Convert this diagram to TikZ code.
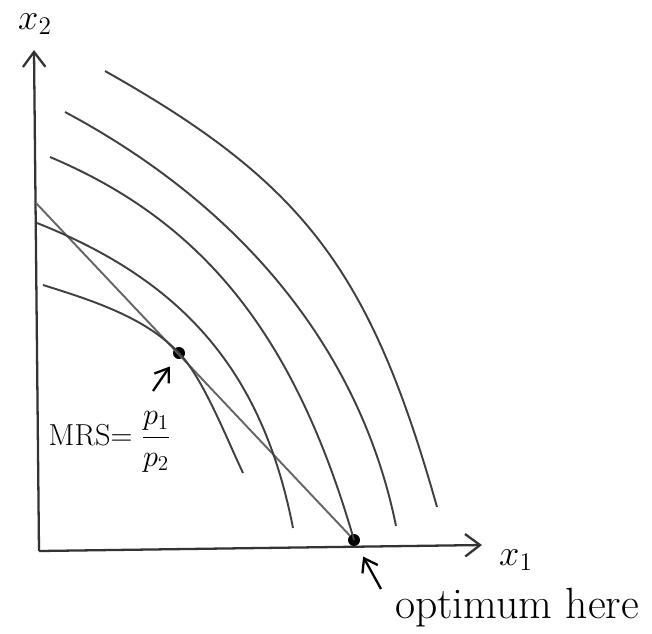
\documentclass[tikz,border=0pt]{standalone}
\usepackage{amsmath}
\usepackage{tikz}
\usetikzlibrary{arrows.meta,positioning,calc}

\begin{document}
\begin{tikzpicture}[
  x=0.02cm, y=-0.02cm,
  axis/.style={-{Straight Barb[length=3mm,width=4.5mm]}, line width=1.3pt, black!80},
  curve/.style={line width=1.1pt, black!75},
  budget/.style={line width=1.1pt, black!60},
  pointer/.style={-{Straight Barb[length=2.5mm,width=3.5mm]}, line width=1.3pt, shorten >=2mm},
  dot/.style={circle, fill=black, inner sep=0pt, minimum size=2.4mm},
  lbl/.style={font=\huge}]
\useasboundingbox (0,0) rectangle (652,633);
% axes
\coordinate (O) at (39,551);
\coordinate (xend) at (482,545);
\coordinate (yend) at (34,50);
\draw[axis] (O) -- (yend);
\draw[axis] (O) -- (xend);
\node[lbl] (xtwo) at (35,24) {$x_2$};
\node[lbl] (xone) at (516,560) {$x_1$};
% budget line and points
\coordinate (b0) at (36,203);
\node[dot] (tan) at (179,353) {};
\node[dot] (opt) at (354,540) {};
\draw[budget] (b0) -- (opt);
% indifference curves
\draw[curve] (43,285) .. controls (91,300) and (145,317) .. (tan.center)
  .. controls (203,378) and (226,437) .. (243,473);
\draw[curve] (37,223) .. controls (186,282) and (263,374) .. (293,528);
\draw[curve] (50,157) .. controls (204,222) and (295,336) .. (opt.center);
\draw[curve] (65,112) .. controls (245,208) and (361,353) .. (396,526);
\draw[curve] (105,71) .. controls (304,183) and (370,270) .. (437,507);
% labels
\node[font=\LARGE] (mrs) at (110,442) {MRS$=\dfrac{p_1}{p_2}$};
\node[font=\Huge] (optlbl) at (517,608) {optimum here};
\coordinate (mrsarrow) at (153,391);
\coordinate (optarrow) at (381,589);
\draw[pointer] (mrsarrow) -- (tan);
\draw[pointer, shorten >=2.5mm] (optarrow) -- (opt);
\end{tikzpicture}
\end{document}
